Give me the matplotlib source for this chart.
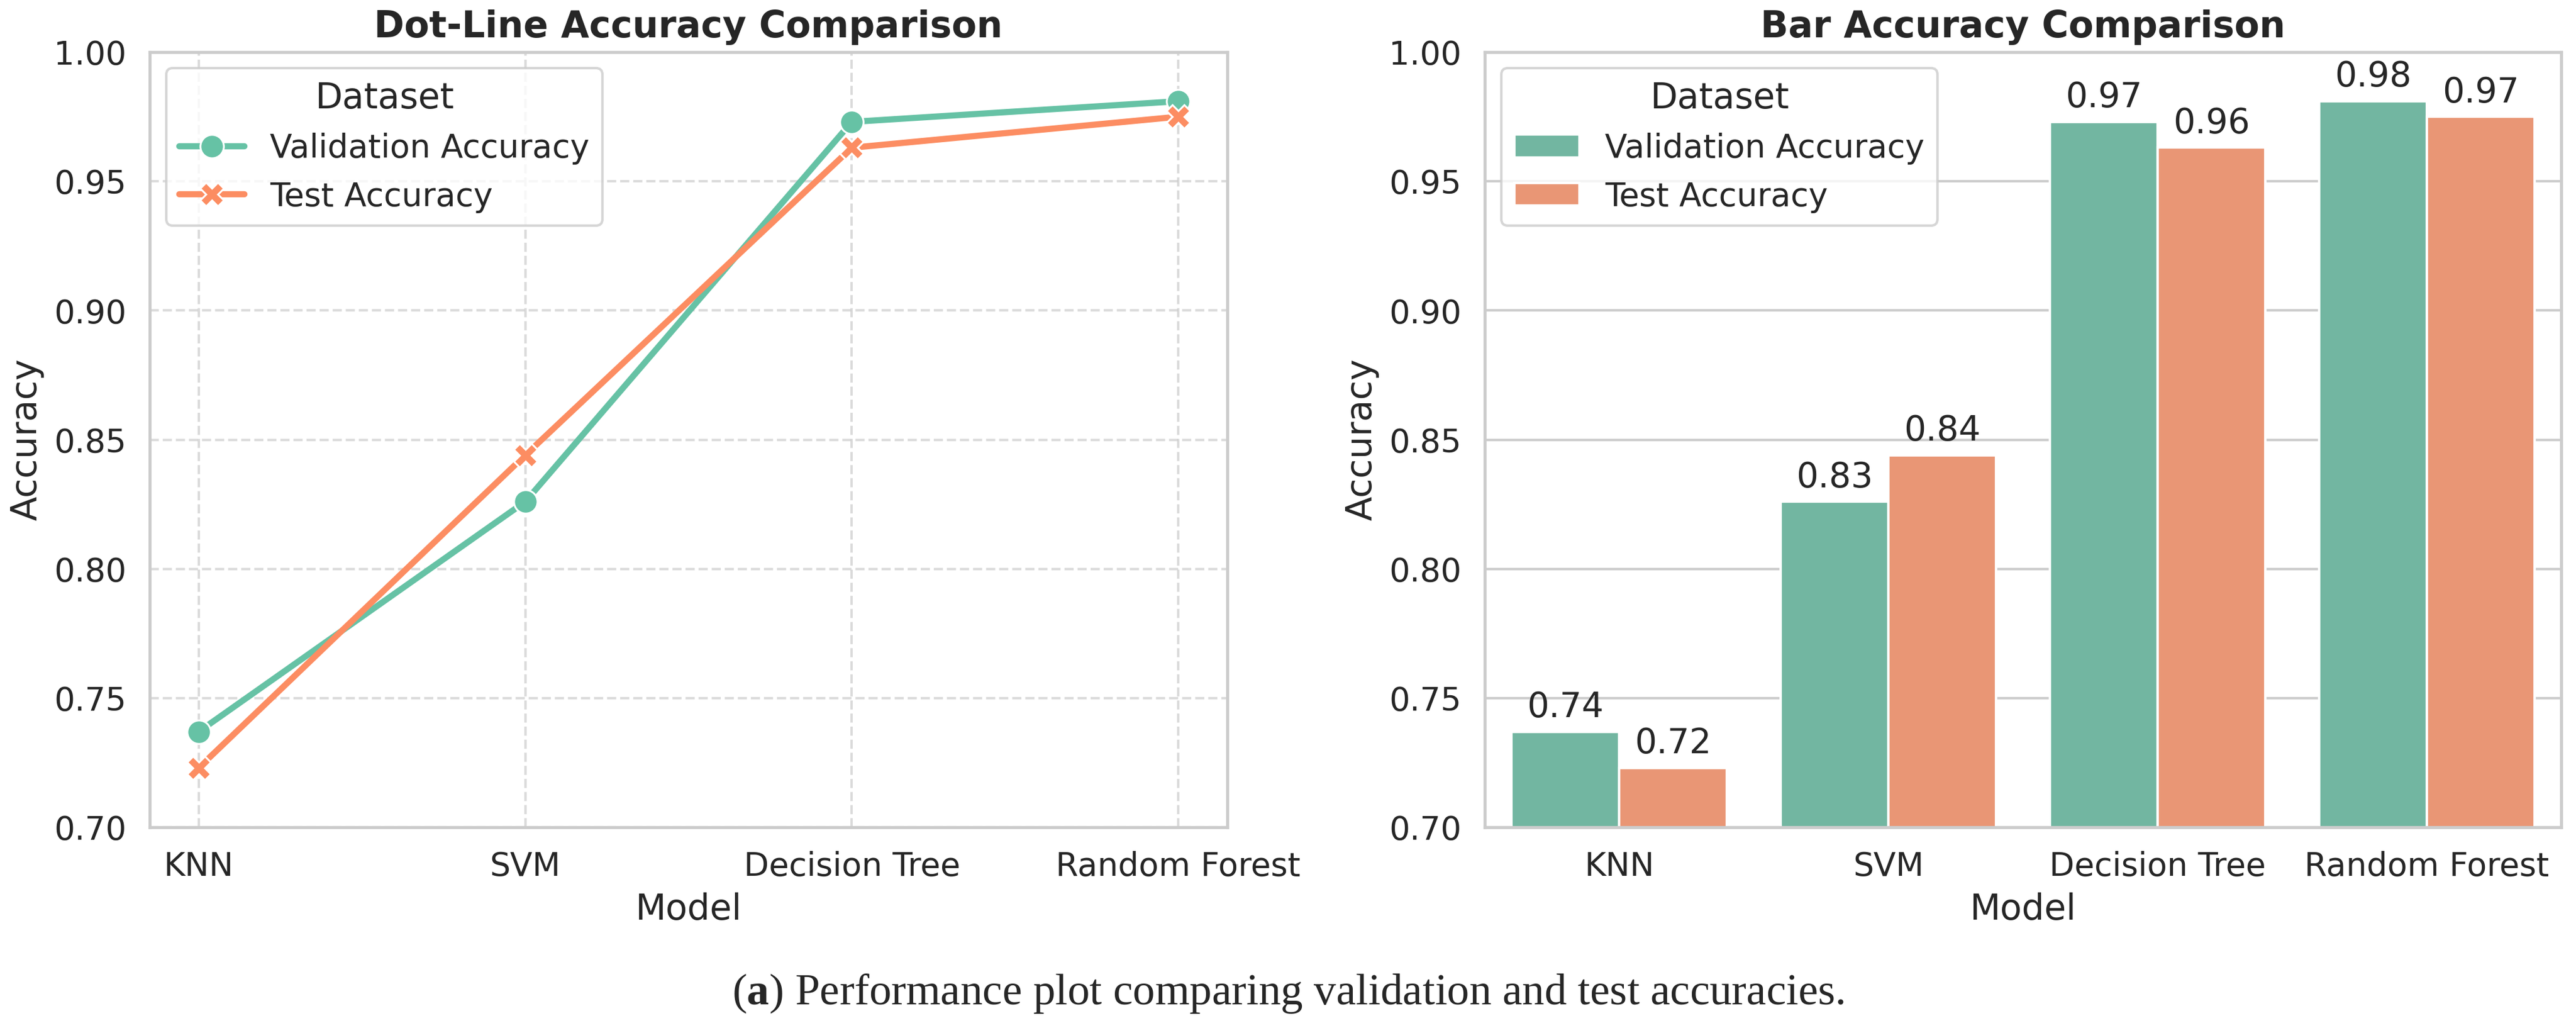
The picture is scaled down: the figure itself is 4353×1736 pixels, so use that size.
import matplotlib
matplotlib.use("Agg")
import matplotlib.pyplot as plt
import seaborn as sns
import pandas as pd
import numpy as np

models = ["KNN", "SVM", "Decision Tree", "Random Forest"]
val_acc = [0.737, 0.826, 0.973, 0.981]
test_acc = [0.723, 0.844, 0.963, 0.975]
series_names = ["Validation Accuracy", "Test Accuracy"]

df = pd.DataFrame({
    "Model": models * 2,
    "Accuracy": val_acc + test_acc,
    "Dataset": [series_names[0]] * len(models) + [series_names[1]] * len(models),
})

sns.set_theme(style="whitegrid")
plt.rcParams['font.family'] = ['DejaVu Sans']
plt.rcParams['mathtext.fontset'] = 'custom'
plt.rcParams['mathtext.rm'] = 'Liberation Serif'
plt.rcParams['mathtext.bf'] = 'Liberation Serif:bold'

W, H, DPI = 4353, 1736, 300
fig = plt.figure(figsize=(W / DPI, H / DPI), dpi=DPI)

ax1 = fig.add_axes([253 / W, 1 - 1397 / H, (2074 - 253) / W, (1397 - 88) / H])
ax2 = fig.add_axes([2509 / W, 1 - 1397 / H, (4328 - 2509) / W, (1397 - 88) / H])

pal = sns.color_palette("Set2", 2)

TICK, LAB, TITLE, LEG, LEGT, BAR = 13.2, 14.4, 14.8, 13.2, 14.4, 14

# Left: dot-line
sns.lineplot(data=df, x="Model", y="Accuracy", hue="Dataset", style="Dataset",
             markers=["o", "X"], dashes=False, palette=pal, ax=ax1,
             linewidth=2.5, markersize=9.5, sort=False)
ax1.set_ylim(0.70, 1.00)
ax1.set_xlim(-0.15, 3.15)
ax1.set_yticks([0.70, 0.75, 0.80, 0.85, 0.90, 0.95, 1.00])
ax1.set_yticklabels([f"{v:.2f}" for v in ax1.get_yticks()])
ax1.grid(True, linestyle="--", alpha=0.7)
ax1.set_title("Dot-Line Accuracy Comparison", fontsize=TITLE, fontweight="bold")
ax1.set_xlabel("Model", fontsize=LAB)
ax1.set_ylabel("Accuracy", fontsize=LAB)
ax1.tick_params(labelsize=TICK)
ax1.legend(title="Dataset", loc="upper left", fontsize=LEG, title_fontsize=LEGT)

# Right: bars
sns.barplot(data=df, x="Model", y="Accuracy", hue="Dataset", palette=pal, ax=ax2,
            edgecolor="white", linewidth=1)
ax2.set_ylim(0.70, 1.00)
ax2.set_yticks([0.70, 0.75, 0.80, 0.85, 0.90, 0.95, 1.00])
ax2.set_yticklabels([f"{v:.2f}" for v in ax2.get_yticks()])
for c in ax2.containers:
    ax2.bar_label(c, fmt="%.2f", padding=3, fontsize=BAR, color="#262626")
ax2.set_title("Bar Accuracy Comparison", fontsize=TITLE, fontweight="bold")
ax2.set_xlabel("Model", fontsize=LAB)
ax2.set_ylabel("Accuracy", fontsize=LAB)
ax2.tick_params(labelsize=TICK)
ax2.legend(title="Dataset", loc="upper left", fontsize=LEG, title_fontsize=LEGT)

# Caption
fig.text(0.5, 40 / H, r"($\mathbf{a}$) Performance plot comparing validation and test accuracies.",
         ha="center", va="baseline", fontsize=18, family="Liberation Serif")

fig.savefig("out.png", dpi=DPI)
